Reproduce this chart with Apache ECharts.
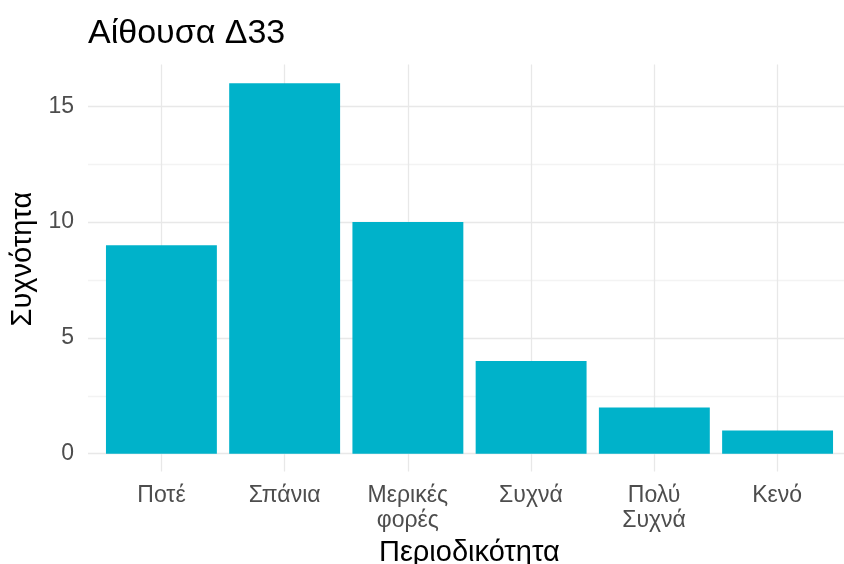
<!DOCTYPE html>
<html>
<head>
<meta charset="utf-8">
<script src="https://cdn.jsdelivr.net/npm/echarts@6/dist/echarts.min.js"></script>
<style>
  html, body { margin: 0; padding: 0; background: #fff; }
  #chart { width: 844px; height: 564px; }
</style>
</head>
<body>
<div id="chart"></div>
<script>
  // data
  const categories = ['Ποτέ', 'Σπάνια', 'Μερικές\nφορές', 'Συχνά', 'Πολύ\nΣυχνά', 'Κενό']
  const counts = [9, 16, 10, 4, 2, 1]
  const yMax = 16.8 // 16 + 5% expansion, like ggplot
  const yStep = 2.5
  const yLabelStep = 5

  const font = "'Liberation Sans', Arial, sans-serif"
  const major = '#e8e8e8'
  const minor = '#f3f3f3'

  // one colour per horizontal line, last one (top edge) hidden
  const hColors = []
  for (let v = 0; v <= yMax; v += yStep) {
    hColors.push(v % yLabelStep === 0 ? major : minor)
  }
  hColors.push('rgba(0,0,0,0)')

  const chart = echarts.init(document.getElementById('chart'))
  chart.setOption({
    animation: false,
    title: {
      text: 'Αίθουσα Δ33',
      left: 83,
      top: 12,
      textStyle: { fontFamily: font, fontSize: 34, fontWeight: 'normal', color: '#000' }
    },
    grid: [
      // bars
      { left: 99.8, right: 4.8, top: 64.6, bottom: 110.3, containLabel: false, outerBoundsMode: 'none' },
      // horizontal grid lines + y labels
      { left: 88, right: 0, top: 64.6, bottom: 110.3, containLabel: false, outerBoundsMode: 'none' },
      // vertical grid lines + x labels
      { left: 161.5, right: 66.8, top: 64.6, bottom: 92.4, containLabel: false, outerBoundsMode: 'none' }
    ],
    xAxis: [
      {
        gridIndex: 0, type: 'category', data: categories, show: false
      },
      {
        gridIndex: 1, type: 'value', min: 0, max: 1, show: false
      },
      {
        gridIndex: 2, type: 'category', data: categories, boundaryGap: false,
        axisLine: { show: false },
        axisTick: { show: false },
        splitLine: { show: true, lineStyle: { color: major, width: 1.3 } },
        axisLabel: {
          interval: 0, margin: 12, color: '#4d4d4d', fontFamily: font,
          fontSize: 23, lineHeight: 25
        },
        name: 'Περιοδικότητα',
        nameLocation: 'middle',
        nameGap: 64,
        nameTextStyle: { fontFamily: font, fontSize: 29, color: '#000' }
      }
    ],
    yAxis: [
      {
        gridIndex: 0, type: 'value', min: 0, max: yMax, show: false
      },
      {
        gridIndex: 1, type: 'value', min: 0, max: yMax, interval: yStep,
        axisLine: { show: false },
        axisTick: { show: false },
        splitLine: { show: true, lineStyle: { color: hColors, width: 1.3 } },
        axisLabel: {
          margin: 14, color: '#4d4d4d', fontFamily: font, fontSize: 23,
          formatter: v => (v % yLabelStep === 0 ? String(v) : '')
        },
        name: 'Συχνότητα',
        nameLocation: 'middle',
        nameGap: 51,
        nameTextStyle: { fontFamily: font, fontSize: 29, color: '#000' }
      },
      {
        gridIndex: 2, type: 'value', min: 0, max: 1, show: false
      }
    ],
    series: [{
      type: 'bar',
      xAxisIndex: 0,
      yAxisIndex: 0,
      data: counts,
      barWidth: '90%',
      itemStyle: { color: '#00B2CA' },
      z: 3
    }]
  })
</script>
</body>
</html>
